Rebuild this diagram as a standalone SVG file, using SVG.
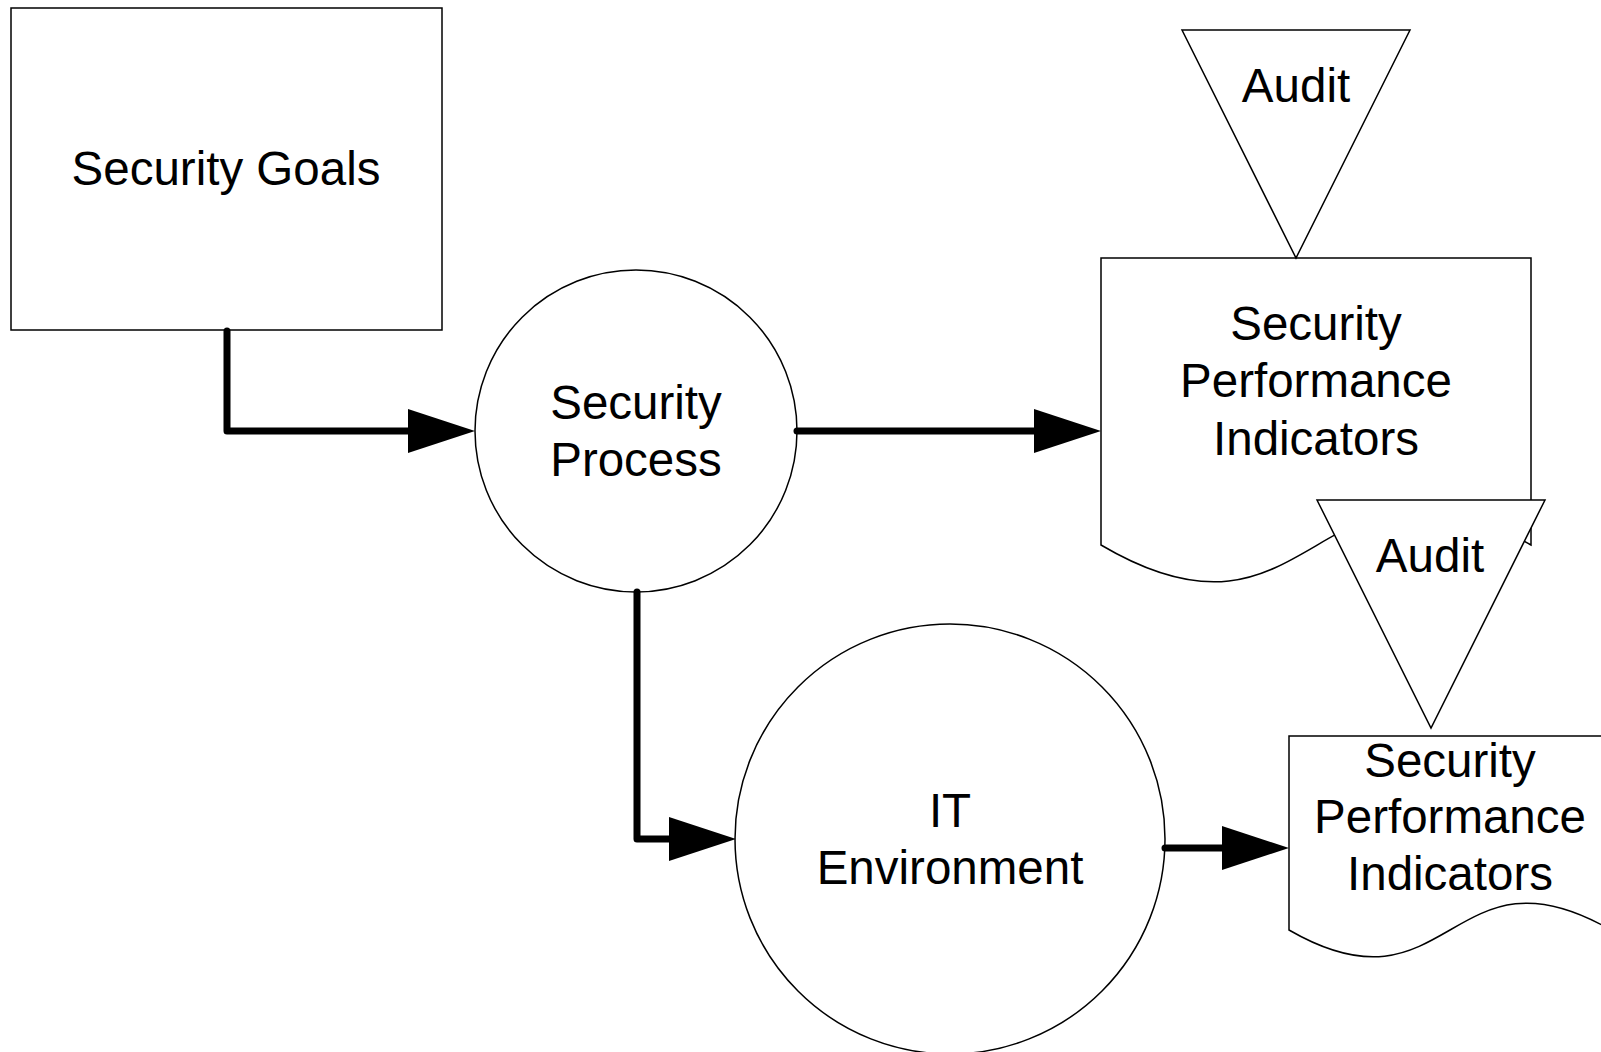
<svg xmlns="http://www.w3.org/2000/svg" width="1601" height="1052" viewBox="0 0 1601 1052">
<style>
.shape{fill:#fff;stroke:#000;stroke-width:1.5}
.lbl{font-family:"Liberation Sans",Arial,sans-serif;font-size:47.5px;fill:#000;text-anchor:middle}
.conn{fill:none;stroke:#000;stroke-width:7;stroke-linecap:round;stroke-linejoin:round}
</style>
<defs>
<marker id="arr" markerUnits="userSpaceOnUse" markerWidth="68" markerHeight="46" refX="0" refY="22" orient="auto" overflow="visible">
<path d="M0,0 L67,22 L0,44 Z" fill="#000"/>
</marker>
</defs>
<rect width="1601" height="1052" fill="#fff"/>
<g id="security-goals">
<rect class="shape" x="11" y="8" width="431" height="322"/>
<text class="lbl" x="226" y="185">Security Goals</text>
</g>
<g id="security-process">
<circle class="shape" cx="636" cy="431" r="161"/>
<text class="lbl" x="636" y="419">Security</text>
<text class="lbl" x="636" y="476">Process</text>
</g>
<g id="it-environment">
<circle class="shape" cx="950" cy="839" r="215"/>
<text class="lbl" x="950" y="827">IT</text>
<text class="lbl" x="950" y="884">Environment</text>
</g>
<g id="spi-1">
<path class="shape" d="M1101,258 H1531 V545 C1316,420 1316,672 1101,545 Z"/>
<text class="lbl" x="1316" y="340">Security</text>
<text class="lbl" x="1316" y="397">Performance</text>
<text class="lbl" x="1316" y="455">Indicators</text>
</g>
<g id="audit-1">
<polygon class="shape" points="1182,30 1410,30 1296,258"/>
<text class="lbl" x="1296" y="102">Audit</text>
</g>
<g id="spi-2">
<path class="shape" d="M1289,736 H1611 V930 C1450,837 1450,1023 1289,930 Z"/>
<text class="lbl" x="1450" y="777">Security</text>
<text class="lbl" x="1450" y="833">Performance</text>
<text class="lbl" x="1450" y="890">Indicators</text>
</g>
<g id="audit-2">
<polygon class="shape" points="1317,500 1545,500 1431,728"/>
<text class="lbl" x="1430" y="572">Audit</text>
</g>
<g id="connectors">
<path class="conn" d="M227,331 V431 H408" marker-end="url(#arr)"/>
<path class="conn" d="M797,431 H1034" marker-end="url(#arr)"/>
<path class="conn" d="M637,592 V839 H669" marker-end="url(#arr)"/>
<path class="conn" d="M1165,848 H1222" marker-end="url(#arr)"/>
</g>
</svg>
